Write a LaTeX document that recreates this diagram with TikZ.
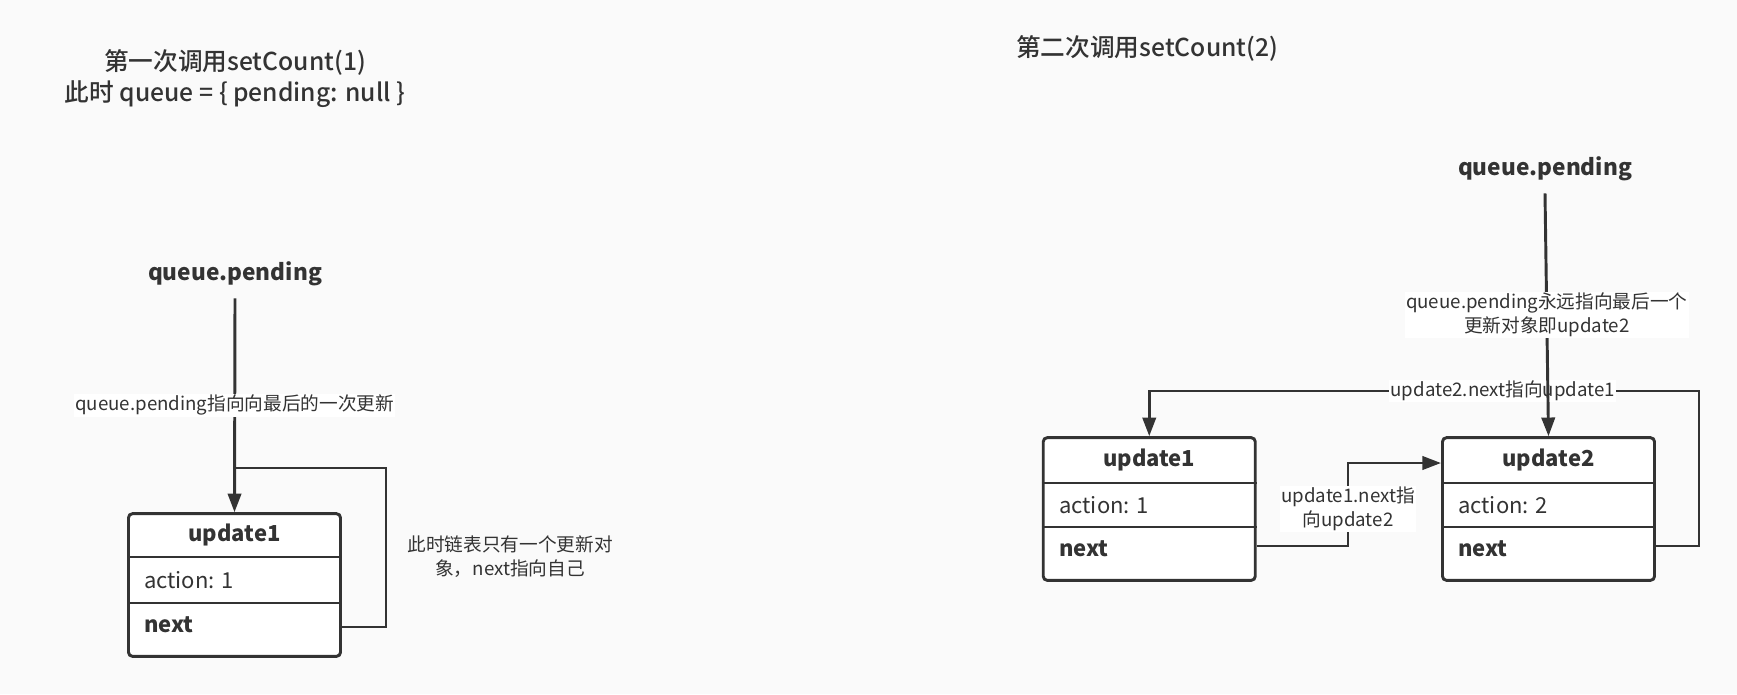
\documentclass[tikz,border=0pt]{standalone}
\usepackage{fontspec}
\setmainfont{Noto Sans CJK SC}
\newfontfamily\medfont{Noto Sans CJK SC Medium}
\usetikzlibrary{arrows.meta}
\definecolor{ink}{HTML}{333333}
\definecolor{bg}{HTML}{FAFAFA}
\begin{document}
\begin{tikzpicture}[x=0.75pt,y=-0.75pt,
  every node/.style={text=ink},
  line/.style={draw=ink,line width=2.2pt,line join=miter},
  arr/.style={line,-{Triangle[length=14pt,width=10pt]}},
  box/.style={draw=ink,line width=2.2pt,fill=white,rounded corners=3pt,minimum width=159pt,minimum height=107pt,inner sep=0pt},
  ttl/.style={font=\fontsize{18.5}{22}\selectfont\medfont,inner sep=0pt},
  qpl/.style={font=\fontsize{17}{20}\selectfont\bfseries,inner sep=0pt},
  head/.style={font=\fontsize{16.5}{19}\selectfont\bfseries,inner sep=0pt},
  fld/.style={font=\fontsize{16.5}{19}\selectfont,inner sep=0pt,anchor=west},
  fldb/.style={font=\fontsize{16.5}{19}\selectfont\bfseries,inner sep=0pt,anchor=west},
  lbl/.style={font=\fontsize{14}{17.5}\selectfont,fill=white,inner sep=1pt,align=center},
  note/.style={font=\fontsize{14}{18}\selectfont,inner sep=0pt,align=center}
]
\path[fill=bg] (0,0) rectangle (1737,694);

% ---- left part ----
\node[ttl] (t1) at (235,62) {第一次调用setCount(1)};
\node[ttl] (t1b) at (235,94) {此时 queue = \{ pending: null \}};
\node[qpl] (qp1) at (235,274) {queue.pending};

\node[box] (u1) at (234.5,585) {};
\draw[line] (u1.west |- 0,557) -- (u1.east |- 0,557);
\draw[line] (u1.west |- 0,603) -- (u1.east |- 0,603);
\node[head] (u1h) at (234.5,535) {update1};
\node[fld] (u1a) at (144,580) {action: 1};
\node[fldb] (u1n) at (144,625) {next};

\draw[arr] (qp1.south) ++(0,12) -- node[lbl,pos=0.5]{queue.pending指向向最后的一次更新} (u1.north);
\coordinate (u1e) at (u1.east |- 0,627);
\draw[line] (u1e) -- (386,627) -- (386,468) -- (235,468);
\node[note] (n1) at (510,557) {此时链表只有一个更新对\\象，next指向自己};

% ---- right part ----
\node[ttl,anchor=west] (t2) at (1016,48) {第二次调用setCount(2)};
\node[qpl] (qp2) at (1545,169) {queue.pending};

\node[box] (r1) at (1149.25,509) {};
\draw[line] (r1.west |- 0,483) -- (r1.east |- 0,483);
\draw[line] (r1.west |- 0,527) -- (r1.east |- 0,527);
\node[head] (r1h) at (1149.25,460) {update1};
\node[fld] (r1a) at (1059,505) {action: 1};
\node[fldb] (r1n) at (1059,549) {next};

\node[box] (r2) at (1548.5,509) {};
\draw[line] (r2.west |- 0,483) -- (r2.east |- 0,483);
\draw[line] (r2.west |- 0,527) -- (r2.east |- 0,527);
\node[head] (r2h) at (1548.5,460) {update2};
\node[fld] (r2a) at (1458,505) {action: 2};
\node[fldb] (r2n) at (1458,549) {next};

\coordinate (r2e) at (r2.east |- 0,546);
\draw[arr] (r2e) -- (1699,546) -- (1699,391) -- node[lbl,pos=0.357]{update2.next指向update1} (1149.25,391) -- (r1.north);

\draw[arr] (qp2.south) ++(0,12) -- node[lbl,pos=0.5]{queue.pending永远指向最后一个\\更新对象即update2} (r2.north);

\coordinate (r1e) at (r1.east |- 0,546);
\draw[arr] (r1e) -- (1348,546) -- node[lbl,pos=0.45]{update1.next指\\向update2} (1348,463) -- (r2.west |- 0,463);
\end{tikzpicture}
\end{document}
